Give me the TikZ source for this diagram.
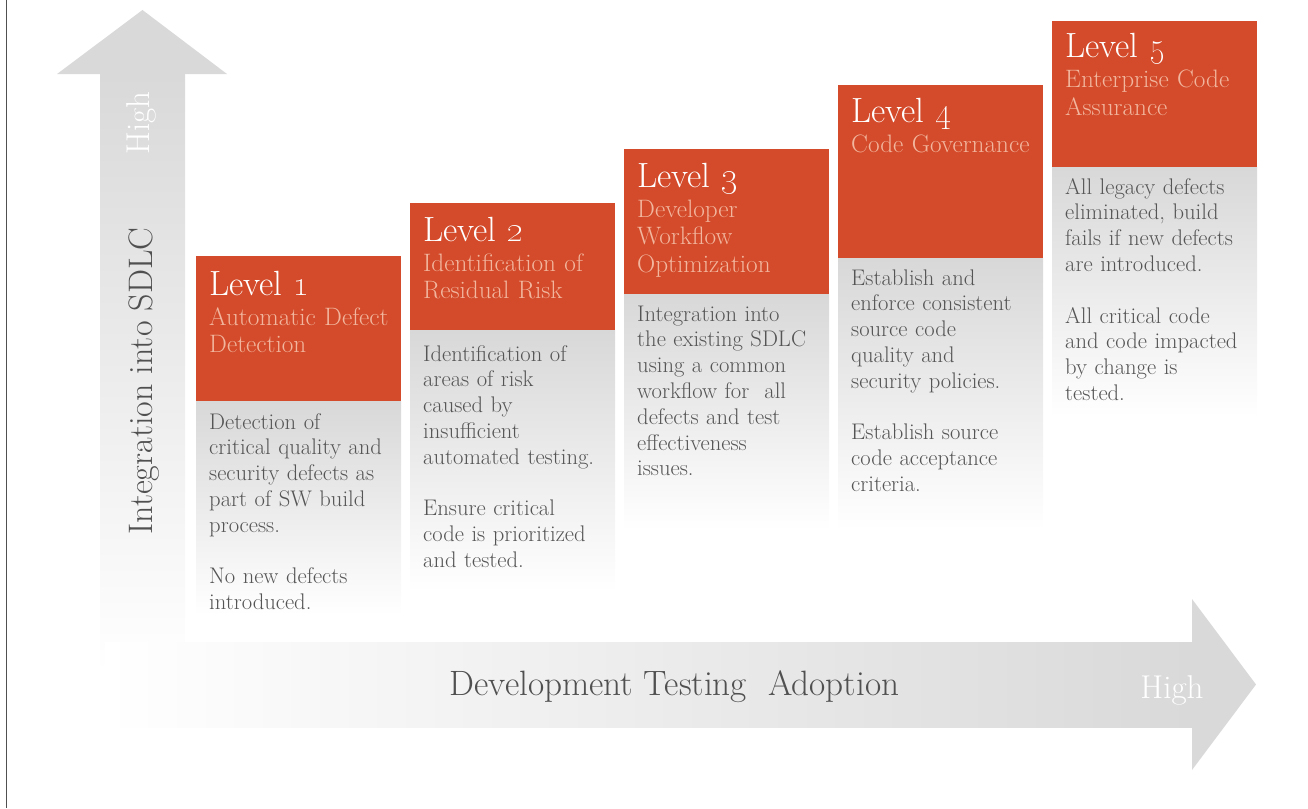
\documentclass[tikz,border=0pt]{standalone}
\usepackage{xcolor}

\definecolor{lvlred}{RGB}{211,75,43}
\definecolor{lvlsub}{RGB}{242,182,158}
\definecolor{bodygrey}{RGB}{85,85,85}
\definecolor{axisgrey}{RGB}{80,80,80}
\definecolor{arrowgrey}{RGB}{217,217,217}
\definecolor{boxgrey}{RGB}{216,216,216}
\definecolor{framegrey}{RGB}{80,80,80}

\tikzset{
  lvltitle/.style={anchor=base west, inner sep=0pt, text=white, font=\fontsize{35}{40}\selectfont},
  lvlsubtitle/.style={anchor=base west, inner sep=0pt, text=lvlsub, text width=192pt, align=left, font=\fontsize{25.2}{27.5}\selectfont},
  lvltext/.style={anchor=base west, inner sep=0pt, text=bodygrey, text width=192pt, align=left, font=\fontsize{22.6}{25.8}\selectfont},
  highlabel/.style={inner sep=0pt, text=white, font=\fontsize{33}{36}\selectfont},
  axislabel/.style={inner sep=0pt, text=axisgrey, font=\fontsize{34}{38}\selectfont},
}

\begin{document}
\begin{tikzpicture}[x=1pt, y=-1pt]
% Set the box dimensions
\def\boxw{205} % each level box is 205 wide
\def\pad{13}

\useasboundingbox (0,0) rectangle (1308,808);
\draw[framegrey, line width=1.2pt] (6.5,0) -- (6.5,808);

% Axis arrows
\shade[top color=arrowgrey, bottom color=white] (100,73.5) rectangle (185,673);
\fill[arrowgrey] (142.5,10) -- (227,74) -- (57,74) -- cycle;
\shade[left color=white, right color=arrowgrey] (105,642) rectangle (1192.5,727);
\fill[arrowgrey] (1192,599) -- (1256,684.5) -- (1192,770) -- cycle;

\node[axislabel, rotate=90] (yaxis) at (144,381) {Integration into SDLC};
\node[highlabel, rotate=90] (yhigh) at (141,123) {High};
\node[axislabel, anchor=base, font=\fontsize{35.2}{38}\selectfont] (xaxis) at (674.5,695) {Development Testing\ \ Adoption};
\node[highlabel, anchor=base] (xhigh) at (1172,698) {High};

% Level 1
\fill[lvlred] (196,256) rectangle +(\boxw,145);
\shade[top color=boxgrey, bottom color=white] (196,401) rectangle (196+\boxw,615);
\node[lvltitle] (lvl1title) at (196+\pad,295) {Level \oldstylenums{1}};
\node[lvlsubtitle] (lvl1sub) at (196+\pad,325) {Automatic Defect\\Detection};
\node[lvltext] (lvl1text) at (196+\pad,429) {Detection of\\critical quality and\\security defects as\\part of SW build\\process.\\[25.8pt]No new defects\\introduced.};

% Level 2
\fill[lvlred] (410,203) rectangle +(\boxw,127);
\shade[top color=boxgrey, bottom color=white] (410,330) rectangle (410+\boxw,592);
\node[lvltitle] (lvl2title) at (410+\pad,241) {Level \oldstylenums{2}};
\node[lvlsubtitle] (lvl2sub) at (410+\pad,271) {Identification of\\Residual Risk};
\node[lvltext] (lvl2text) at (410+\pad,361) {Identification of\\areas of risk\\caused by\\insufficient\\automated testing.\\[25.8pt]Ensure critical\\code is prioritized\\and tested.};

% Level 3
\fill[lvlred] (624,149) rectangle +(\boxw,145);
\shade[top color=boxgrey, bottom color=white] (624,294) rectangle (624+\boxw,530);
\node[lvltitle] (lvl3title) at (624+\pad,187) {Level \oldstylenums{3}};
\node[lvlsubtitle] (lvl3sub) at (624+\pad,217) {Developer\\Workflow\\Optimization};
\node[lvltext] (lvl3text) at (624+\pad,321) {Integration into\\the existing SDLC\\using a common\\workflow for\ \ all\\defects and test\\effectiveness\\issues.};

% Level 4
\fill[lvlred] (838,85) rectangle +(\boxw,173);
\shade[top color=boxgrey, bottom color=white] (838,258) rectangle (838+\boxw,530);
\node[lvltitle] (lvl4title) at (838+\pad,122) {Level \oldstylenums{4}};
\node[lvlsubtitle] (lvl4sub) at (838+\pad,152) {Code Governance};
\node[lvltext] (lvl4text) at (838+\pad,285) {Establish and\\enforce consistent\\source code\\quality and\\security policies.\\[25.8pt]Establish source\\code acceptance\\criteria.};

% Level 5
\fill[lvlred] (1052,21) rectangle +(\boxw,146);
\shade[top color=boxgrey, bottom color=white] (1052,167) rectangle (1052+\boxw,417);
\node[lvltitle] (lvl5title) at (1052+\pad,58) {Level \oldstylenums{5}};
\node[lvlsubtitle] (lvl5sub) at (1052+\pad,88) {Enterprise Code\\Assurance};
\node[lvltext] (lvl5text) at (1052+\pad,194) {All legacy defects\\eliminated, build\\fails if new defects\\are introduced.\\[25.8pt]All critical code\\and code impacted\\by change is\\tested.};
\end{tikzpicture}
\end{document}
